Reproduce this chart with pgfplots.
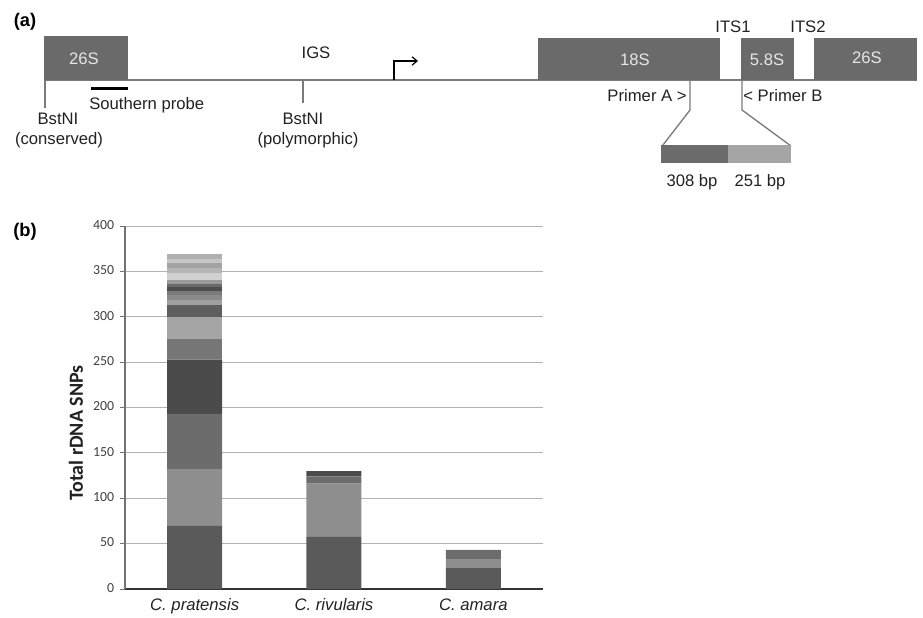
\documentclass[border=0pt]{standalone}
\usepackage{fontspec}
\setmainfont{Liberation Sans}
\newfontfamily\calibri{Carlito}
\usepackage{pgfplots}
\pgfplotsset{compat=1.18}
\usetikzlibrary{arrows.meta}
\definecolor{boxg}{HTML}{6A6A6A}
\definecolor{boxtext}{HTML}{E6E6E6}
\definecolor{linegray}{HTML}{7A7A7A}
\definecolor{txt}{HTML}{222222}
\definecolor{c1}{HTML}{5A5A5A}
\definecolor{c2}{HTML}{8E8E8E}
\definecolor{c3}{HTML}{6C6C6C}
\definecolor{c4}{HTML}{4B4B4B}
\definecolor{c5}{HTML}{777777}
\definecolor{c6}{HTML}{A5A5A5}
\definecolor{c7}{HTML}{5E5E5E}
\definecolor{c8}{HTML}{A0A0A0}
\definecolor{c9}{HTML}{8A8A8A}
\definecolor{c10}{HTML}{7A7A7A}
\definecolor{c11}{HTML}{4D4D4D}
\definecolor{c12}{HTML}{6A6A6A}
\definecolor{c13}{HTML}{9A9A9A}
\definecolor{c14}{HTML}{D0D0D0}
\definecolor{c15}{HTML}{B5B5B5}
\definecolor{c16}{HTML}{A3A3A3}
\definecolor{c17}{HTML}{C7C7C7}
\definecolor{c18}{HTML}{B0B0B0}
\begin{document}
\begin{tikzpicture}[x=0.6pt,y=0.6pt,font=\fontsize{10}{12}\selectfont]
\useasboundingbox (0,0) rectangle (923,618);
% ---------- panel (a) ----------
\node[font=\bfseries\fontsize{11}{13}\selectfont] at (25,596) {(a)};
\draw[linegray, line width=1pt] (44,538) -- (917,538);
\fill[boxg] (44,538) rectangle (128,582);
\fill[boxg] (538,538) rectangle (720,580);
\fill[boxg] (741,538) rectangle (794,580);
\fill[boxg] (814,538) rectangle (917,580);
\node[text=boxtext] at (84,559) {26S};
\node[text=boxtext] at (635,558) {18S};
\node[text=boxtext] at (767,558) {5.8S};
\node[text=boxtext] at (867,560) {26S};
\node[text=txt] at (316,565) {IGS};
\node[text=txt] at (733,591) {ITS1};
\node[text=txt] at (808,591) {ITS2};
\draw[black, line width=0.7pt, -{Straight Barb[length=3pt,width=5pt]}] (394,538) -- (394,557) -- (418,557);
\draw[linegray, line width=0.8pt] (45,538) -- (45,510);
\node[text=txt] at (58,499) {BstNI};
\node[text=txt] at (59,478) {(conserved)};
\draw[black, line width=1.8pt] (91,529) -- (128,529);
\node[text=txt, anchor=west, inner sep=0pt] at (89,513) {Southern probe};
\draw[linegray, line width=0.8pt] (303,538) -- (303,515);
\node[text=txt] at (303,499) {BstNI};
\node[text=txt] at (308,478) {(polymorphic)};
\node[text=txt, anchor=east, inner sep=0pt] at (687,522) {Primer A >};
\draw[linegray, line width=0.8pt] (690,538) -- (690,508) -- (663,473);
\node[text=txt, anchor=west, inner sep=0pt] at (743,522) {< Primer B};
\draw[linegray, line width=0.8pt] (742,538) -- (742,508) -- (791,472);
\fill[c3] (661,473) rectangle (728,455);
\fill[c6] (728,473) rectangle (791,455);
\node[text=txt] at (692,436) {308 bp};
\node[text=txt] at (760,436) {251 bp};
% ---------- panel (b) ----------
\node[font=\bfseries\fontsize{11}{13}\selectfont] at (25,386) {(b)};
\node[rotate=90, text=txt, font=\calibri\bfseries\fontsize{12}{14}\selectfont] at (76,185) {Total rDNA SNPs};
\begin{axis}[
  at={(75pt,17.4pt)}, anchor=south west,
  scale only axis, width=250.8pt, height=217.8pt,
  xmin=-0.5, xmax=2.5, ymin=0, ymax=400,
  ybar stacked, bar width=33pt,
  axis x line*=bottom, axis y line*=left,
  x axis line style={draw=black!80, line width=1.1pt, -},
  y axis line style={draw=black!55, line width=0.7pt, -},
  ytick={0,50,...,400},
  ymajorgrids, grid style={draw=black!30, line width=0.6pt},
  tick align=outside,
  major tick length=3pt,
  ytick style={draw=black!55, line width=0.6pt},
  xtick={0,1,2},
  xticklabels={\textit{C. pratensis},\textit{C. rivularis},\textit{C. amara}},
  xtick style={draw=none},
  extra x ticks={-0.5,0.5,1.5,2.5},
  extra x tick labels={},
  extra x tick style={tick style={draw=black!70, line width=0.7pt}, major tick length=3pt, grid=none},
  typeset ticklabels with strut,
  xticklabel style={font=\fontsize{10}{12}\selectfont, text=txt, yshift=2pt},
  yticklabel style={font=\calibri\fontsize{8.3}{10}\selectfont, text=black!75},
  /pgf/number format/assume math mode=true,
  clip=false,
]
\addplot[fill=c1, draw=none] coordinates {(0,70) (1,58) (2,23)};
\addplot[fill=c2, draw=none] coordinates {(0,62) (1,58) (2,10)};
\addplot[fill=c3, draw=none] coordinates {(0,61) (1,8) (2,10)};
\addplot[fill=c4, draw=none] coordinates {(0,60) (1,6) (2,0)};
\addplot[fill=c5, draw=none] coordinates {(0,23) (1,0) (2,0)};
\addplot[fill=c6, draw=none] coordinates {(0,24) (1,0) (2,0)};
\addplot[fill=c7, draw=none] coordinates {(0,13) (1,0) (2,0)};
\addplot[fill=c8, draw=none] coordinates {(0,6) (1,0) (2,0)};
\addplot[fill=c9, draw=none] coordinates {(0,5) (1,0) (2,0)};
\addplot[fill=c10, draw=none] coordinates {(0,4) (1,0) (2,0)};
\addplot[fill=c11, draw=none] coordinates {(0,5) (1,0) (2,0)};
\addplot[fill=c12, draw=none] coordinates {(0,3) (1,0) (2,0)};
\addplot[fill=c13, draw=none] coordinates {(0,5) (1,0) (2,0)};
\addplot[fill=c14, draw=none] coordinates {(0,7) (1,0) (2,0)};
\addplot[fill=c15, draw=none] coordinates {(0,6) (1,0) (2,0)};
\addplot[fill=c16, draw=none] coordinates {(0,5) (1,0) (2,0)};
\addplot[fill=c17, draw=none] coordinates {(0,5) (1,0) (2,0)};
\addplot[fill=c18, draw=none] coordinates {(0,5) (1,0) (2,0)};
\end{axis}
\end{tikzpicture}
\end{document}
